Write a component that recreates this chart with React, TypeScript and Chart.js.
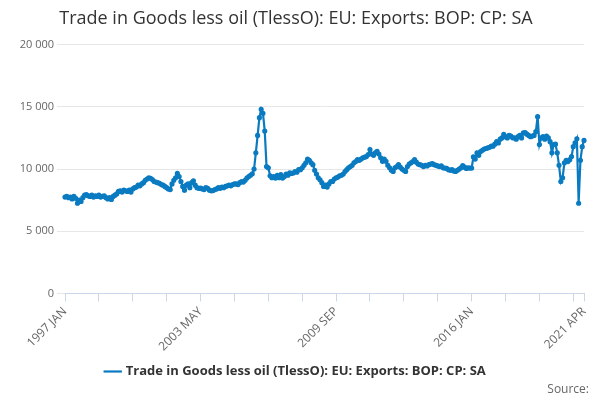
import React, { useEffect, useRef } from "react";
import { Chart, registerables } from "chart.js";
Chart.register(...registerables);

const MONTHS = ["JAN","FEB","MAR","APR","MAY","JUN","JUL","AUG","SEP","OCT","NOV","DEC"];
const START_YEAR = 1997;
const values: number[] = [
  7750,7800,7700,7750,7600,7800,7650,7250,7500,7400,7700,7900,
  7950,7850,7800,7900,7750,7850,7800,7900,7750,7800,7850,7700,
  7600,7700,7550,7800,7900,8000,8200,8250,8150,8300,8250,8200,
  8300,8150,8400,8500,8550,8700,8650,8800,8900,9100,9200,9300,
  9250,9150,9000,8950,8900,8850,8750,8700,8600,8500,8400,8350,
  8800,9100,9300,9650,9400,9000,8600,8300,8700,8800,8500,8900,
  9050,8700,8500,8450,8460,8400,8350,8500,8450,8300,8250,8270,
  8350,8400,8500,8450,8550,8500,8600,8650,8700,8650,8750,8800,
  8800,8750,8900,9000,8950,9100,9270,9400,9500,9620,10000,11300,
  12700,14130,14800,14480,13050,10200,10100,9460,9300,9400,9270,9500,
  9300,9550,9270,9400,9600,9500,9700,9650,9680,9800,9750,9950,
  9950,10100,10300,10500,10800,10700,10500,10350,9900,9600,9300,9140,
  8900,8600,8700,8550,8800,9000,9000,9200,9300,9350,9460,9500,
  9600,9800,9950,10100,10200,10300,10500,10600,10750,10700,10800,10900,
  10950,11000,11160,11570,11200,11100,11300,11430,11200,10900,10620,10800,
  10620,10300,10100,9900,9810,10100,10200,10350,10150,10000,9900,9810,
  10200,10400,10500,10600,10750,10550,10400,10350,10300,10200,10300,10250,
  10350,10400,10430,10350,10300,10250,10200,10250,10100,10080,10050,9950,
  9900,9950,9850,9810,9900,10000,10100,10270,10150,10050,10100,10080,
  10080,10970,10800,11300,11100,11400,11500,11600,11650,11700,11750,11840,
  11840,12000,12200,12100,12400,12500,12780,12600,12500,12700,12650,12510,
  12510,12400,12600,12700,12500,12900,12920,12800,12700,12600,12650,12700,
  13000,14210,11970,12500,12600,12400,12650,12500,12200,11300,11970,12000,
  11300,10300,9000,9300,10500,10700,10600,10750,11000,11800,12100,12430,
  7250,10700,11800,12300,
];
const labels: string[] = values.map((_, i) => `${START_YEAR + Math.floor(i / 12)} ${MONTHS[i % 12]}`);
const tickIndices: number[] = [0,19,38,57,76,95,114,133,152,171,190,209,228,247,266,285,291];
const labelledIndices: number[] = [0,76,152,228,291];
const seriesName = "Trade in Goods less oil (TlessO): EU: Exports: BOP: CP: SA";
const titleText = "Trade in Goods less oil (TlessO): EU: Exports: BOP: CP: SA";

export default function App() {
  const ref = useRef<HTMLCanvasElement>(null);
  useEffect(() => {
    const font = "'Open Sans', 'DejaVu Sans', sans-serif";
    const chart = new Chart(ref.current!, {
      type: "line",
      data: {
        labels,
        datasets: [{
          label: seriesName,
          data: values,
          borderColor: "#0a7bc1",
          backgroundColor: "#0a7bc1",
          borderWidth: 2.2,
          pointRadius: 1.5,
          pointHoverRadius: 2,
          tension: 0,
        }],
      },
      options: {
        animation: false,
        responsive: false,
        layout: { padding: { left: 8, right: 16, top: 0, bottom: 12 } },
        plugins: {
          title: { display: true, text: titleText, color: "#333", font: { family: font, size: 18, weight: "normal" }, padding: { top: 8, bottom: 15 } },
          legend: {
            position: "bottom",
            labels: { usePointStyle: true, pointStyle: "line", color: "#333", font: { family: font, size: 13, weight: "bold" }, padding: 8 },
          },
          tooltip: { enabled: false },
        },
        scales: {
          x: {
            type: "category",
            afterBuildTicks: (axis: any) => { axis.ticks = tickIndices.map((v) => ({ value: v })); },
            ticks: {
              autoSkip: false, minRotation: 45, maxRotation: 45, color: "#666",
              font: { family: font, size: 12 },
              callback: (v: any) => (labelledIndices.includes(v) ? labels[v] : ""),
            },
            grid: { drawOnChartArea: false, color: "#ccd6eb", tickLength: 8 },
            border: { color: "#ccd6eb" },
          },
          y: {
            min: 0, max: 20000,
            afterFit: (s: any) => { s.width = 57; },
            ticks: {
              stepSize: 5000, color: "#666", font: { family: font, size: 11 },
              callback: (v: any) => String(v).replace(/\B(?=(\d{3})+(?!\d))/g, " "),
            },
            grid: { color: "#e6e6e6" },
            border: { display: false },
          },
        },
      },
    });
    return () => chart.destroy();
  }, []);
  return (
    <div style={{ position: "fixed", left: 0, top: 0, width: 600, height: 400, background: "#fff" }}>
      <canvas ref={ref} width={600} height={400} />
      <div style={{ position: "absolute", right: 11, top: 380, fontFamily: "'Open Sans', sans-serif", fontSize: 12, color: "#666" }}>Source:</div>
    </div>
  );
}
